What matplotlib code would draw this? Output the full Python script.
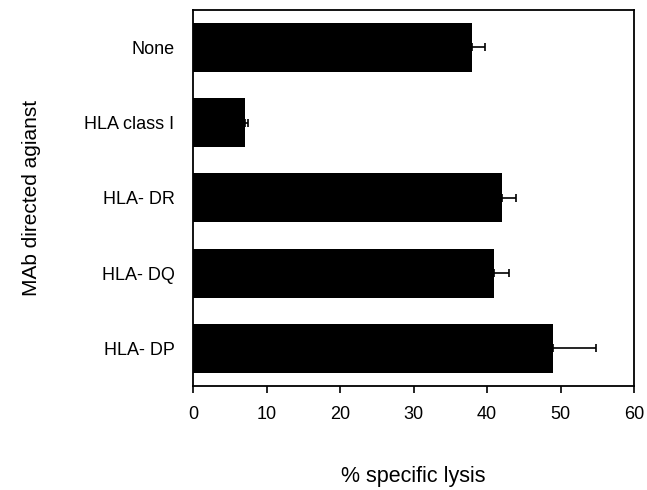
import matplotlib.pyplot as plt
import numpy as np

plt.rcParams['font.family'] = ['Liberation Sans', 'DejaVu Sans']

# data
labels = ['None', 'HLA class I', 'HLA- DR', 'HLA- DQ', 'HLA- DP']
lysis = [38.0, 7.1, 42.0, 41.0, 49.0]
err = [1.7, 0.3, 2.0, 2.0, 5.8]

fig = plt.figure(figsize=(6.47, 4.9), dpi=100)
ax = fig.add_axes([0.2985, 0.2122, 0.6815, 0.768])

y = np.arange(len(labels))
ax.barh(y, lysis, height=0.65, color='black')
# one-sided error bars
ax.errorbar(lysis, y, xerr=[np.zeros(len(err)), err], fmt='none',
            ecolor='black', elinewidth=1.2, capsize=3, capthick=1.2)

ax.set_xlim(0, 60)
ax.set_ylim(4.5, -0.5)
ax.set_xticks(range(0, 61, 10))
ax.set_yticks(y)
ax.set_yticklabels(labels)
ax.tick_params(axis='y', length=0, pad=13.5, labelsize=13)
ax.tick_params(axis='x', direction='out', length=5, width=1.2, pad=9.5, labelsize=13)
for s in ax.spines.values():
    s.set_linewidth(1.3)

ax.set_xlabel('% specific lysis', fontsize=15.5, labelpad=31)
ax.set_ylabel('MAb directed agianst', fontsize=15, labelpad=31)

fig.savefig('out.png', dpi=100)
